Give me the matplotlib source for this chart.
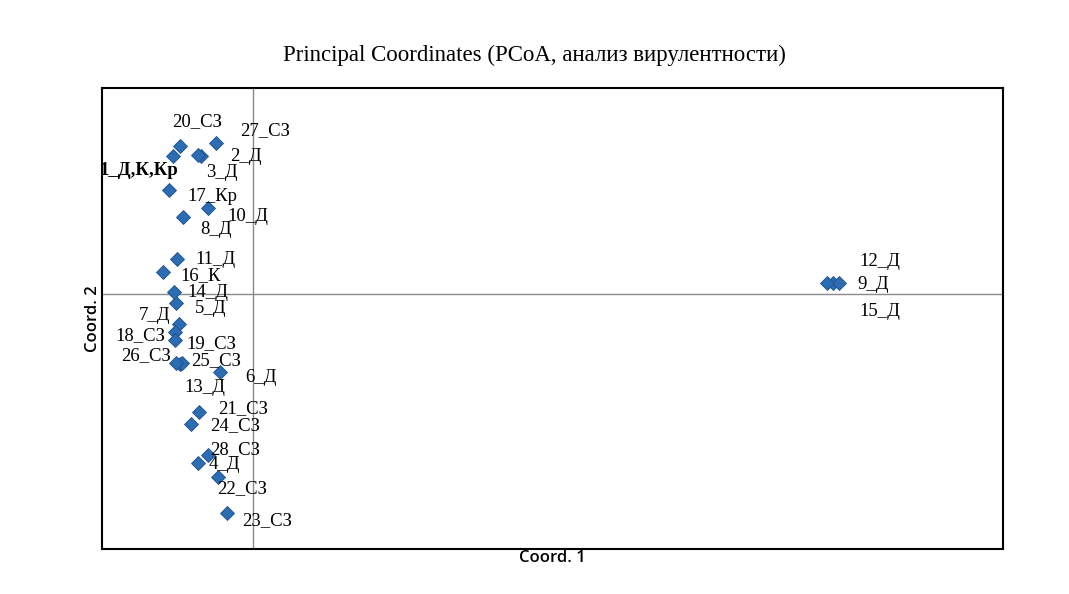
import matplotlib.pyplot as plt

# PCoA coordinates of isolates
names = ["1_Д,К,Кр", "2_Д", "3_Д", "4_Д", "5_Д", "6_Д", "7_Д", "8_Д", "9_Д", "10_Д",
         "11_Д", "12_Д", "13_Д", "14_Д", "15_Д", "16_К", "17_Кр", "18_СЗ", "19_СЗ", "20_СЗ",
         "21_СЗ", "22_СЗ", "23_СЗ", "24_СЗ", "25_СЗ", "26_СЗ", "27_СЗ", "28_СЗ"]
coord1 = [-0.80, -0.52, -0.55, -0.55, -0.77, -0.33, -0.74, -0.70, 5.80, -0.45,
          -0.76, 5.86, -0.73, -0.79, 5.74, -0.90, -0.84, -0.78, -0.78, -0.73,
          -0.54, -0.35, -0.26, -0.62, -0.71, -0.77, -0.37, -0.45]
coord2 = [1.38, 1.38, 1.39, -1.69, -0.09, -0.78, -0.30, 0.77, 0.11, 0.86,
          0.35, 0.11, -0.70, 0.02, 0.11, 0.22, 1.04, -0.38, -0.46, 1.48,
          -1.18, -1.83, -2.19, -1.30, -0.69, -0.69, 1.51, -1.61]

# label offsets in pixels (dx, dy)
offs = [(-34, -15), (45, -1), (24, -18), (26, -2), (35, -6), (41, -6), (-24, 8), (33, -13),
        (40, -2), (40, -9), (38, -1), (41, 21), (25, -24), (34, -1), (53, -29), (38, -4),
        (43, -7), (-35, -4), (36, -4), (17, 24), (44, 3), (24, -12), (40, -8), (44, -2),
        (34, 2), (-30, 7), (49, 12), (27, 5)]

fig = plt.figure(figsize=(10.69, 5.94), dpi=100)
ax = fig.add_axes([0.0954, 0.0758, 0.8429, 0.7761])

ax.axhline(0, color='#8a8a8a', lw=1, zorder=1)
ax.axvline(0, color='#8a8a8a', lw=1, zorder=1)
ax.plot(coord1, coord2, 'D', color='#2b6cb3', mec='#1f4f8a', mew=0.6, ms=7.5, ls='none', zorder=3)

for i in range(len(names)):
    w = 'bold' if i == 0 else 'normal'
    ax.annotate(names[i], (coord1[i], coord2[i]), xytext=offs[i], textcoords='offset pixels',
                ha='center', va='center', fontsize=13.5, family='Liberation Serif', fontweight=w)

ax.set_xlim(-1.51, 7.50)
ax.set_ylim(-2.55, 2.06)
ax.set_xticks([])
ax.set_yticks([])
for s in ax.spines.values():
    s.set_linewidth(1.5)
    s.set_color('black')

fig.text(0.5, 0.907, "Principal Coordinates (PCoA, анализ вирулентности)", ha='center', va='center',
         fontsize=16.5, family='Liberation Serif')
ax.set_xlabel("Coord. 1", fontsize=12, family='Open Sans', fontweight='semibold', labelpad=1)
ax.set_ylabel("Coord. 2", fontsize=12, family='Open Sans', fontweight='semibold', labelpad=1)

fig.savefig('out.png', dpi=100)
